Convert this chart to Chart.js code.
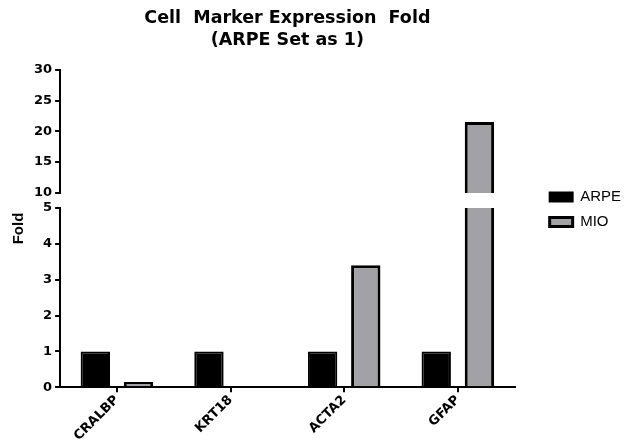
<!DOCTYPE html>
<html>
<head>
<meta charset="utf-8">
<script src="https://cdn.jsdelivr.net/npm/chart.js@4"></script>
<style>
  html, body { margin: 0; padding: 0; background: #fff; }
  #wrap { width: 631px; height: 444px; }
</style>
</head>
<body>
<div id="wrap"><canvas id="foldChart"></canvas></div>
<script>
// datos
const markers = ['CRALBP', 'KRT18', 'ACTA2', 'GFAP'];
const arpeFold = [1, 1, 1, 1];
const mioFold = [0.15, 0, 3.4, 21.5];
const lowerTicks = [0, 1, 2, 3, 4, 5];
const upperTicks = [10, 15, 20, 25, 30];

const tickFont = { family: 'DejaVu Sans', weight: 'bold', size: 13 };

// recorta cada dataset a la franja de su propio eje (eje partido)
const clipToAxis = {
    id: 'clipToAxis',
    beforeDatasetDraw(chart, args) {
        const ys = chart.scales[args.meta.yAxisID];
        const ctx = chart.ctx;
        ctx.save();
        ctx.beginPath();
        ctx.rect(chart.chartArea.left, ys.top, chart.chartArea.width, ys.bottom - ys.top);
        ctx.clip();
    },
    afterDatasetDraw(chart) {
        chart.ctx.restore();
    }
};

// titulo "Fold" centrado sobre los dos tramos del eje
const foldTitle = {
    id: 'foldTitle',
    afterDraw(chart) {
        const ctx = chart.ctx;
        const cy = (chart.scales.yTop.top + chart.scales.y.bottom) / 2;
        ctx.save();
        ctx.translate(19, cy);
        ctx.rotate(-Math.PI / 2);
        ctx.font = 'bold 15px "Liberation Sans"';
        ctx.fillStyle = '#000';
        ctx.textAlign = 'center';
        ctx.textBaseline = 'middle';
        ctx.fillText('Fold', 0, 0);
        ctx.restore();
    }
};

function axisStyle(extra) {
    return Object.assign({
        type: 'linear',
        position: 'left',
        stack: 'fold',
        grid: { drawOnChartArea: false, color: '#000', lineWidth: 2, tickLength: 5 },
        border: { color: '#000', width: 2 }
    }, extra);
}

new Chart(document.getElementById('foldChart'), {
    type: 'bar',
    data: {
        labels: markers,
        datasets: [
            {
                label: 'ARPE',
                data: arpeFold,
                yAxisID: 'y',
                stack: 'arpe',
                backgroundColor: '#000000',
                borderColor: '#000000',
                borderWidth: 2
            },
            {
                label: 'MIO',
                data: mioFold,
                yAxisID: 'y',
                stack: 'mio',
                backgroundColor: '#a2a2a6',
                borderColor: '#000000',
                borderWidth: 3
            },
            {
                label: 'MIO',
                data: mioFold,
                yAxisID: 'yTop',
                stack: 'mio',
                backgroundColor: '#a2a2a6',
                borderColor: '#000000',
                borderWidth: 3
            }
        ]
    },
    options: {
        responsive: true,
        maintainAspectRatio: false,
        animation: false,
        datasets: {
            bar: { categoryPercentage: 0.76, barPercentage: 0.68 }
        },
        layout: { padding: { left: 31, right: 0, top: 0, bottom: 0 } },
        plugins: {
            title: {
                display: true,
                text: ['Cell  Marker Expression  Fold', '(ARPE Set as 1)'],
                color: '#000',
                font: { family: 'DejaVu Sans', weight: 'bold', size: 17.5, lineHeight: 1.22 },
                padding: { top: 8, bottom: 19 },
                fullSize: false
            },
            legend: {
                position: 'right',
                align: 'start',
                maxWidth: 100,
                title: { display: true, text: '', padding: { top: 165, bottom: 0 } },
                labels: {
                    color: '#000',
                    font: { family: 'Liberation Sans', size: 15 },
                    boxWidth: 23,
                    boxHeight: 9,
                    padding: 10,
                    filter: (item) => item.datasetIndex < 2
                }
            },
            tooltip: { enabled: false }
        },
        scales: {
            x: {
                type: 'category',
                grid: { offset: false, drawOnChartArea: false, color: '#000', lineWidth: 2, tickLength: 5 },
                border: { color: '#000', width: 2 },
                ticks: {
                    color: '#000',
                    font: Object.assign({ lineHeight: 1 }, tickFont),
                    minRotation: 45,
                    maxRotation: 45,
                    padding: 1
                }
            },
            // los ejes apilados a la izquierda se colocan de abajo hacia arriba
            y: axisStyle({
                min: 0,
                max: 5,
                stackWeight: 179,
                afterBuildTicks: (s) => { s.ticks = lowerTicks.map(v => ({ value: v })); },
                ticks: { color: '#000', font: tickFont, padding: 3 }
            }),
            yGap: axisStyle({
                min: 5,
                max: 10,
                stackWeight: 15,
                grid: { display: false },
                border: { display: false },
                ticks: { display: false }
            }),
            yTop: axisStyle({
                min: 10,
                max: 30,
                stackWeight: 123,
                afterBuildTicks: (s) => { s.ticks = upperTicks.map(v => ({ value: v })); },
                ticks: { color: '#000', font: tickFont, padding: 3 }
            }),
            yPad: {
                type: 'linear',
                position: 'right',
                grid: { display: false },
                border: { display: false },
                ticks: { display: false },
                afterFit: (s) => { s.width = 25; }
            }
        }
    },
    plugins: [clipToAxis, foldTitle]
});
</script>
</body>
</html>
